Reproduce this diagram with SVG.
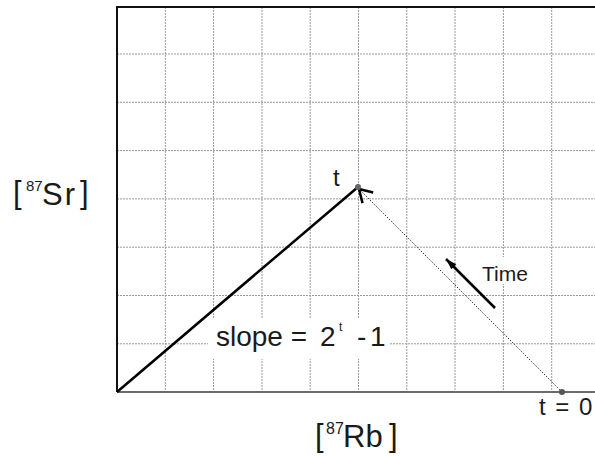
<svg xmlns="http://www.w3.org/2000/svg" width="595" height="456" viewBox="0 0 595 456">
<style>
.grid{stroke:#999;stroke-width:1;stroke-dasharray:2 1;fill:none}
.lbl{font-family:"Liberation Sans",Arial,sans-serif;fill:#1a1a1a}
</style>
<defs>
<marker id="openHead" markerUnits="userSpaceOnUse" markerWidth="20" markerHeight="20" viewBox="-12 -8 14 16" refX="0" refY="0" orient="auto">
<path d="M-10,-6 L0,0 L-10,6" fill="none" stroke="#000" stroke-width="2"/>
</marker>
<marker id="triHead" markerUnits="userSpaceOnUse" markerWidth="14" markerHeight="10" viewBox="-12 -5 13 10" refX="0" refY="0" orient="auto">
<path d="M0,0 L-11,-3.5 L-11,3.5 z" fill="#000"/>
</marker>
</defs>
<rect width="595" height="456" fill="#fff"/>
<g id="grid" class="grid">
<path d="M165.3,7V392M213.6,7V392M262,7V392M310.2,7V392M358.5,7V392M406.8,7V392M455,7V392M503.4,7V392M551.7,7V392"/>
<path d="M117,54H595M117,102.3H595M117,150.6H595M117,198.9H595M117,247.2H595M117,295.5H595M117,343.8H595"/>
</g>
<g id="label-bg" fill="#fff">
<rect x="208" y="318" width="182" height="41"/>
<rect x="478" y="257" width="57" height="27"/>
</g>
<g id="axes">
<path d="M595,7H117V392" fill="none" stroke="#111" stroke-width="2"/>
<path d="M117,392H595" stroke="#6a6a6a" stroke-width="2"/>
</g>
<g id="connectors">
<path d="M117,392L358,187" stroke="#000" stroke-width="2.5" fill="none"/>
<path d="M562,392L359,189" stroke="#333" stroke-width="1" stroke-dasharray="1.5 1.5" fill="none" marker-end="url(#openHead)"/>
<path d="M495,308L446,259" stroke="#000" stroke-width="2.5" fill="none" marker-end="url(#triHead)"/>
</g>
<g id="point-t">
<circle cx="358" cy="187" r="3" fill="#666"/>
<text class="lbl" x="333" y="186" font-size="24">t</text>
</g>
<g id="point-t0">
<circle cx="562" cy="392" r="3" fill="#555"/>
<text class="lbl" x="539" y="415" font-size="24" word-spacing="3">t = 0</text>
</g>
<g id="label-time">
<text class="lbl" x="482" y="281" font-size="21">Time</text>
</g>
<g id="label-slope">
<text class="lbl" y="346" font-size="28"><tspan x="216">slope =</tspan><tspan x="320">2</tspan><tspan x="339" y="331" font-size="12">t</tspan><tspan x="357" y="346">-</tspan><tspan x="370">1</tspan></text>
</g>
<g id="label-sr">
<text class="lbl" x="13" y="203" font-size="31">[</text>
<text class="lbl" x="26" y="191" font-size="15">87</text>
<text class="lbl" x="42" y="205" font-size="31" letter-spacing="2">Sr</text>
<text class="lbl" x="80" y="203" font-size="31">]</text>
</g>
<g id="label-rb">
<text class="lbl" x="315" y="446" font-size="31">[</text>
<text class="lbl" x="326" y="434" font-size="16">87</text>
<text class="lbl" x="343" y="447" font-size="31">Rb</text>
<text class="lbl" x="389" y="446" font-size="31">]</text>
</g>
</svg>
